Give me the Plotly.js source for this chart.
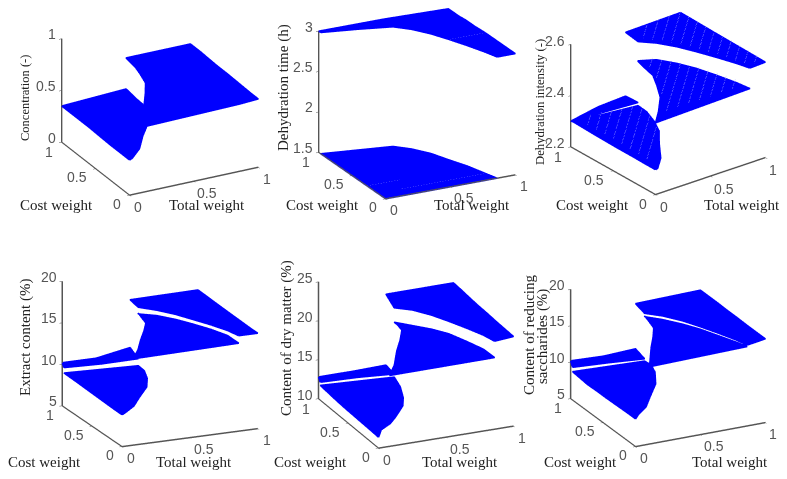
<!DOCTYPE html>
<html><head><meta charset="utf-8">
<script src="https://cdn.plot.ly/plotly-3.0.1.min.js"></script>
<style>html,body{margin:0;padding:0;background:#fff}#g{width:787px;height:479px;filter:blur(.45px)}</style></head>
<body><div id="g"></div>
<script>
// Weights (x = Total weight, y = Cost weight) of the region borders
const rowCost   = [0,.12,.28,.45,.6,.74,.84];
const jumpLow   = [.02,.14,.25,.38,.45,.49,.49];  // right border of the low-total region
const jumpHigh  = [.08,.17,.26,.36,.44,.47,.49];  // left border of the middle region
const jumpHighIntensity = [0,.12,.26,.36,.44,.47,.49]; // same border in the Dehydration intensity panel
const ridgeTotal= [.86,.83,.78,.72,.66,.58,.49];  // border between the middle and far regions
const stripTotal= [0,.25,.49];
const stripCost = [.97,.91,.84];

// values per panel: a1 left/right, a2 bottom/top, b left/right, c left/right
const concentration = {a1L:[.34,.34,.34,.345,.35,.35,.35],a1R:[.35,.35,.36,.36,.37,.37,.375],
  a2B:[.35,.36,.375],a2T:[.35,.365,.38],
  bL:[.63,.64,.65,.66,.66,.67,.67],bR:[.65,.65,.66,.66,.67,.67,.67],
  cL:[.65,.65,.66,.66,.67,.67,.67,.68],cR:[.66,.66,.665,.67,.67,.675,.68,.68]};
const dehydrationTime = {a1L:[1.5,1.5,1.5,1.5,1.5,1.5,1.5],a1R:[1.5,1.5,1.5,1.51,1.51,1.52,1.52],
  a2B:[3,3,3],a2T:[3,3,3],
  bL:[1.5,1.5,1.5,1.51,1.51,1.52,1.52],bR:[1.5,1.5,1.51,1.51,1.52,1.52,1.52],
  cL:[3,3,3,3,3,3,3,3],cR:[3,3,3,3,2.99,2.99,2.98,2.98]};
const dehydrationIntensity = {a1L:[2.297,2.297,2.298,2.298,2.299,2.3,2.303],a1R:[2.3,2.3,2.31,2.31,2.31,2.315,2.32],
  a2B:[2.303,2.318,2.332],a2T:[2.3,2.32,2.326],
  bL:[2.48,2.485,2.49,2.49,2.49,2.49,2.493],bR:[2.49,2.495,2.5,2.505,2.505,2.505,2.495],
  cL:[2.57,2.57,2.57,2.57,2.57,2.57,2.57,2.575],cR:[2.573,2.574,2.575,2.576,2.577,2.578,2.579,2.58]};
const extractContent = {a1L:[8.84,8.85,8.9,8.95,9,9.05,9.1],a1R:[9,9,9,9.15,9.3,9.45,9.56],
  a2B:[9.75,9.95,10.4],a2T:[10.2,10.2,10.94],
  bL:[15.4,15.7,15.9,15.95,16,15.9,15.9],bR:[15.6,16,16.05,16,15.95,15.9,15.8],
  cL:[16.5,16.6,16.6,16.55,16.55,16.55,16.6,16.7],cR:[16.5,16.5,16.55,16.6,16.65,16.7,16.75,16.8]};
const dryMatter = {a1L:[11.4,11.45,11.5,11.55,11.6,11.7,11.9],a1R:[12.3,12,11.5,11.5,11.4,11.8,12.4],
  a2B:[12.3,12.6,12.8],a2T:[12.8,12.8,12.9],
  bL:[19.1,19.4,20,20,20.1,19.8,19.45],bR:[19.2,19.6,19.7,19.8,19.6,19.4,19.45],
  cL:[21.3,21.4,21.4,21.4,21.4,21.4,21.3,22],cR:[21.5,21.55,21.6,21.7,21.75,21.85,21.95,22.05]};
const reducingSugars = {a1L:[8.8,8.8,8.75,8.7,8.7,8.65,8.9],a1R:[9.3,9.2,9.1,9.4,9.8,9.7,9.6],
  a2B:[9.5,9.7,9.9],a2T:[10.2,10,10.2],
  bL:[15.6,15.2,15.9,15.9,15.9,15.85,15.8],bR:[15.9,15.85,15.8,15.8,15.7,15.65,15.7],
  cL:[16.1,16.15,16.15,16.15,16.15,16.15,16.15,16.4],cR:[16.5,16.5,16.5,16.55,16.55,16.6,16.6,16.6]};

// thin gaps seen in the Dehydration intensity cloud: [x1,y1,x2,y2] per region
const gapsLow  = [[0,.1,.42,.52],[0,.2,.47,.67],[0,.3,.49,.79],[0,.4,.45,.85],[0,.5,.37,.87],[0,.6,.29,.89],[0,.7,.21,.91],[0,.8,.13,.93]];
const gapsMid  = [[.7,0,.82,.12],[.6,0,.8,.2],[.5,0,.78,.28],[.4,0,.75,.35],[.3,0,.73,.43],[.2,0,.7,.5],[.1,0,.67,.57],[.24,.24,.64,.64],[.37,.47,.6,.7],[.45,.65,.56,.76]];
const gapsFar  = [[.9,0,1,.1],[.84,.04,1,.2],[.82,.12,1,.3],[.8,.2,1,.4],[.78,.28,1,.5],[.75,.35,1,.6],[.73,.43,1,.7],[.7,.5,1,.8],[.67,.57,1,.9],[.64,.64,1,1],[.6,.7,.9,1],[.56,.76,.8,1],[.52,.82,.7,1]];
const gapLevels = [2.322,2.512,2.583];

const zRanges = [[0,1],[1.5,3],[2.2,2.6],[5,20],[10,25],[5,20]];
const zTicks  = [[0,.5,1],[1.5,2,2.5,3],[2.2,2.4,2.6],[5,10,15,20],[10,15,20,25],[5,10,15,20]];
const weightTicks = [0,.5,1];
const panels  = [concentration,dehydrationTime,dehydrationIntensity,extractContent,dryMatter,reducingSugars];
const lowBorders  = [jumpLow,jumpHigh,jumpLow,jumpLow,jumpLow,jumpLow];
const highBorders = [jumpHigh,jumpHigh,jumpHighIntensity,jumpHigh,jumpHigh,jumpHigh];

const views = [
 {az:27.8,el:24.3,zr:.78,s:145.8,cx:159.5,cy:102.5},
 {az:27.3,el:21,zr:.89,s:146.2,cx:416.5,cy:102.5},
 {az:37.7,el:25.8,zr:.82,s:139,cx:672.5,cy:101.5},
 {az:23.8,el:17.5,zr:.88,s:148.6,cx:160,cy:354.5},
 {az:24,el:21.5,zr:.85,s:148,cx:415.5,cy:354},
 {az:26.6,el:21.7,zr:.81,s:145.4,cx:672.5,cy:355.5}];
// axis titles: [text, x, y, size, angle]
const titles = [
 ['Concentration (-)',25,98,12.5,-90],['Cost weight',56,205,15,0],['Total weight',207,205,15,0],
 ['Dehydration time (h)',284,88,15,-90],['Cost weight',322,205,15,0],['Total weight',472,205,15,0],
 ['Dehydration intensity (-)',540,102,12.7,-90],['Cost weight',592,205,15,0],['Total weight',742,205,15,0],
 ['Extract content (%)',25,338,15,-90],['Cost weight',44,462,15,0],['Total weight',194,462,15,0],
 ['Content of dry matter (%)',286,338,15,-90],['Cost weight',310,462,15,0],['Total weight',460,462,15,0],
 ['Content of reducing',529,335,15,-90],['saccharides (%)',542,337,15,-90],['Cost weight',580,462,15,0],['Total weight',730,462,15,0]];

const W=787,H=479,DOMH=200,DOMW=250,UNIT=100.2;
const traces=[], layout={width:W,height:H,margin:{l:0,r:0,t:0,b:0},paper_bgcolor:'#fff',showlegend:false,annotations:[]};
const BLUE='#0000ff';
function patch(rows,scene){
  traces.push({type:'surface',scene,showscale:false,hoverinfo:'skip',
    x:rows.map(r=>[r[0],r[3]]),y:rows.map(r=>[r[1],r[4]]),z:rows.map(r=>[r[2],r[5]]),
    colorscale:[[0,BLUE],[1,BLUE]],
    lighting:{ambient:1,diffuse:0,specular:0,roughness:1,fresnel:0}});
  const ring=[...rows.map(r=>[r[0],r[1],r[2]]),...rows.slice().reverse().map(r=>[r[3],r[4],r[5]])];
  ring.push(ring[0]);
  traces.push({type:'scatter3d',scene,mode:'lines',hoverinfo:'skip',
    x:ring.map(p=>p[0]),y:ring.map(p=>p[1]),z:ring.map(p=>p[2]),line:{color:BLUE,width:3}});
}
function gapLines(list,level,scene){
  const x=[],y=[],z=[];
  list.forEach(g=>{x.push(g[0],g[2],null);y.push(g[1],g[3],null);z.push(level,level,null);});
  traces.push({type:'scatter3d',scene,mode:'lines',hoverinfo:'skip',connectgaps:false,x,y,z,
    line:{color:'#b8b8ff',width:1.5,dash:'dot'}});
}
panels.forEach((p,i)=>{
  const scene=i?'scene'+(i+1):'scene';
  patch(rowCost.map((y,k)=>[0,k==6?.97:y,p.a1L[k],lowBorders[i][k],y,p.a1R[k]]),scene);
  patch(stripTotal.map((x,k)=>[x,stripCost[k],p.a2B[k],k==2?.5:x,1,p.a2T[k]]),scene);
  patch(rowCost.map((y,k)=>[highBorders[i][k],y,p.bL[k],ridgeTotal[k],y,p.bR[k]]),scene);
  const cCost=[...rowCost,1], cTot=[...ridgeTotal,.5];
  patch(cCost.map((y,k)=>[cTot[k],y,p.cL[k],1,y,p.cR[k]]),scene);
  if(i==2){gapLines(gapsLow,gapLevels[0],scene);gapLines(gapsMid,gapLevels[1],scene);gapLines(gapsFar,gapLevels[2],scene);}
  const v=views[i], az=v.az*Math.PI/180, el=v.el*Math.PI/180;
  const e=[-Math.sin(az)*Math.cos(el),-Math.cos(az)*Math.cos(el),Math.sin(el)];
  const D=2, k=v.s/UNIT;
  const axis=(extra)=>Object.assign({showgrid:false,zeroline:false,showbackground:false,showspikes:false,
    showline:true,linecolor:'#555',linewidth:3,ticks:'outside',ticklen:3,tickcolor:'#555',tickwidth:1,
    showticklabels:false,title:{text:''},autorange:false},extra);
  const tf={family:'Liberation Sans',size:14,color:'#555'};
  const tick=(x,y,z,text,xshift,yshift,xanchor)=>({x,y,z,text,showarrow:false,xshift,yshift,xanchor,yanchor:'middle',font:tf});
  const zLow=zRanges[i][0];
  const ann=[];
  zTicks[i].forEach(t=>ann.push(tick(0,1,t,String(t),-3,4,'right')));
  weightTicks.forEach(t=>ann.push(tick(t,0,zLow,String(t),t==.5?14:9,-12,'center')));
  weightTicks.forEach(t=>ann.push(tick(0,t,zLow,String(t),t==.5?-18:-12,t==1?-10:-9,'center')));
  layout[scene]={
    domain:{x:[(v.cx-DOMW/2)/W,Math.min(1,(v.cx+DOMW/2)/W)].map(a=>Math.max(0,a)),y:[1-(v.cy+DOMH/2)/H,1-(v.cy-DOMH/2)/H]},
    aspectmode:'manual',aspectratio:{x:k,y:k,z:k*v.zr},
    camera:{projection:{type:'orthographic'},up:{x:0,y:0,z:1},center:{x:0,y:0,z:0},eye:{x:e[0]*D,y:e[1]*D,z:e[2]*D}},
    xaxis:axis({range:[0,1],tickvals:weightTicks}),
    yaxis:axis({range:[0,1],tickvals:weightTicks}),
    zaxis:axis({range:zRanges[i],tickvals:zTicks[i]}),
    annotations:ann
  };
});
titles.forEach(t=>layout.annotations.push({text:t[0],x:t[1]/W,y:1-t[2]/H,xref:'paper',yref:'paper',showarrow:false,textangle:t[4],
  font:{family:'Liberation Serif',size:t[3],color:'#222'},xanchor:'center',yanchor:'middle'}));
Plotly.newPlot('g',traces,layout,{displayModeBar:false});
</script></body></html>
